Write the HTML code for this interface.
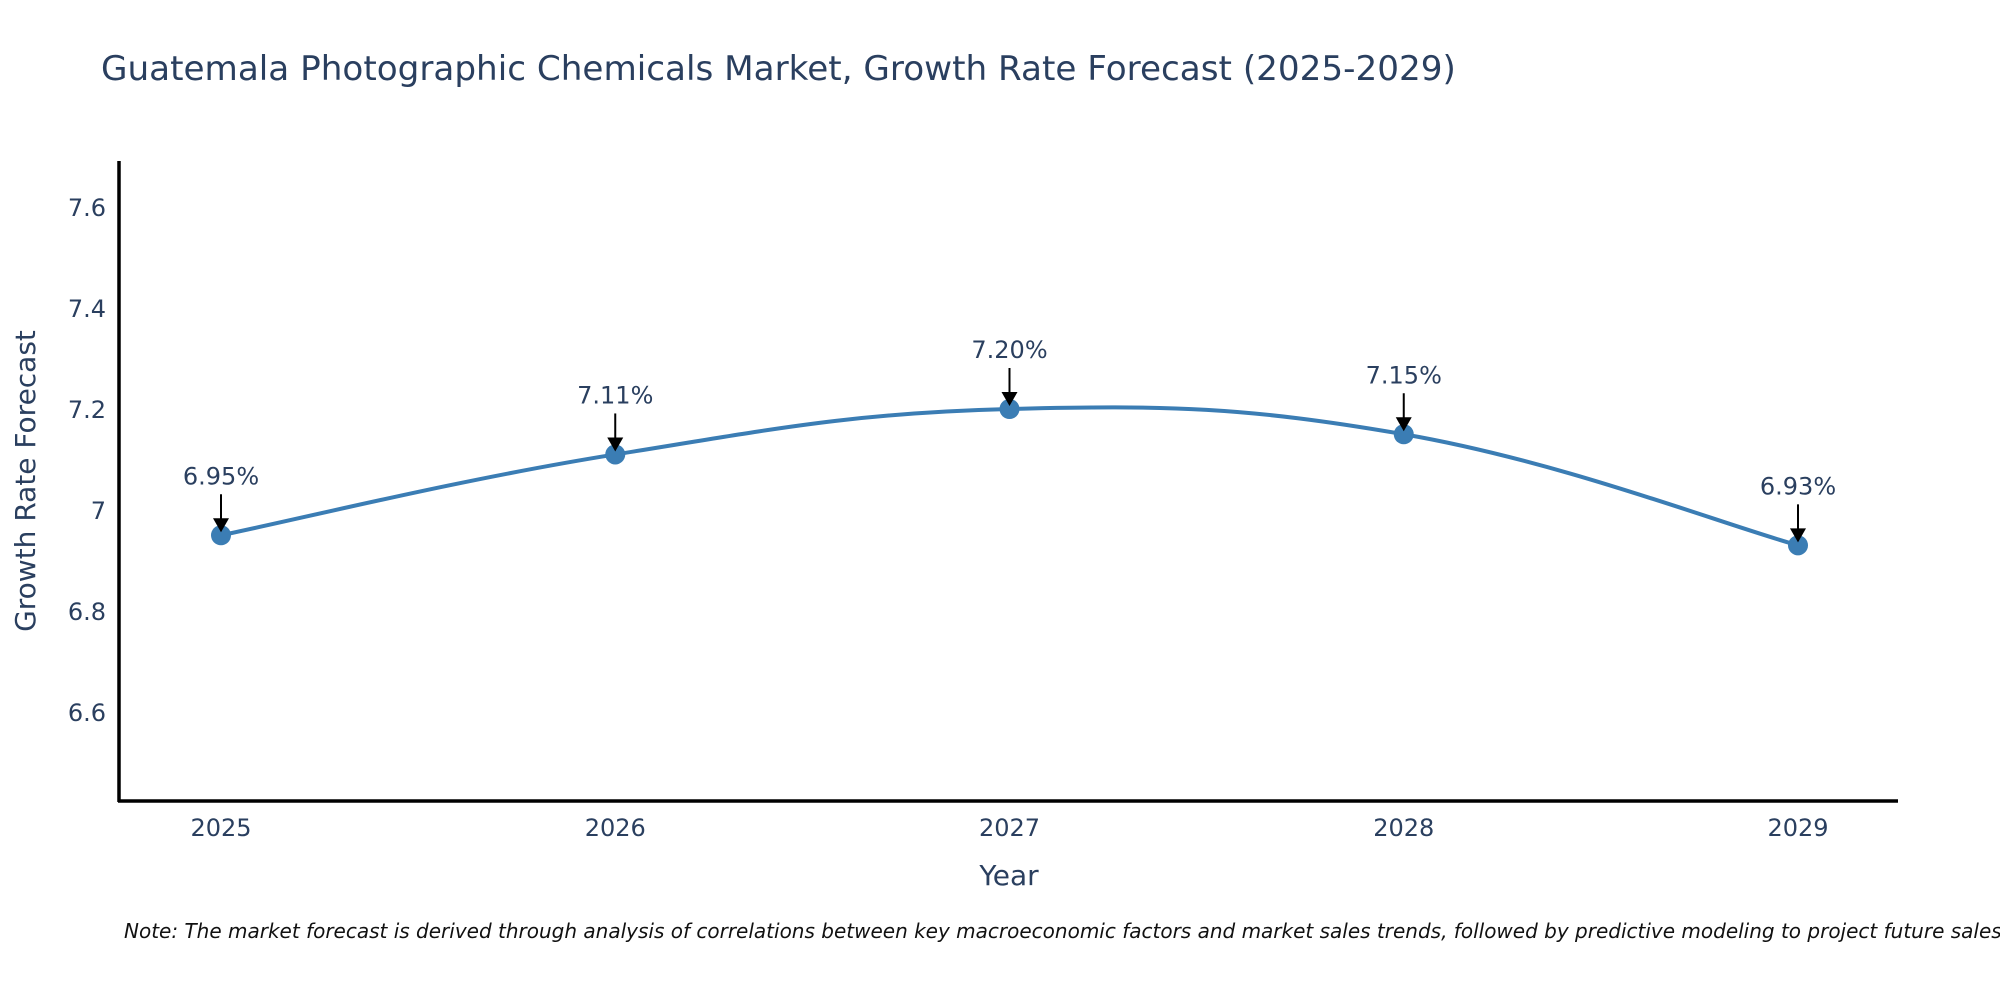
<!DOCTYPE html>
<html><head><meta charset="utf-8"><style>
body{margin:0;background:#fff}
svg{display:block;font-family:"DejaVu Sans","Liberation Sans",sans-serif}
</style></head><body>
<svg id="chart" width="2000" height="1000" viewBox="0 0 2000 1000">
<text x="101" y="80" font-size="34.2" fill="#2a3f5f">Guatemala Photographic Chemicals Market, Growth Rate Forecast (2025-2029)</text>
<g id="yticks"></g><g id="xticks"></g>
<path id="line" fill="none" stroke="#3b7db4" stroke-width="4"/>
<g id="marks"></g>
<line x1="119" y1="161" x2="119" y2="802" stroke="#000" stroke-width="3.5"/>
<line x1="118" y1="801" x2="1898" y2="801" stroke="#000" stroke-width="3.5"/>
<text x="1009" y="885" font-size="28" fill="#2a3f5f" text-anchor="middle">Year</text>
<text transform="translate(35,481) rotate(-90)" font-size="28" fill="#2a3f5f" text-anchor="middle">Growth Rate Forecast</text>
<text x="124" y="938" font-size="20" font-style="italic" fill="#111">Note: The market forecast is derived through analysis of correlations between key macroeconomic factors and market sales trends, followed by predictive modeling to project future sales.</text>
</svg>
<script>
const years=[2025,2026,2027,2028,2029];
const values=[6.95,7.11,7.20,7.15,6.93];
const labels=["6.95%","7.11%","7.20%","7.15%","6.93%"];
const yTicks=[6.6,6.8,7,7.2,7.4,7.6];
const NS="http://www.w3.org/2000/svg";
const X=v=>221+(v-2025)*(1798-221)/4;
const Y=v=>510-(v-7.0)*505;
function mk(t,a,p){const e=document.createElementNS(NS,t);for(const k in a)e.setAttribute(k,a[k]);p.appendChild(e);return e;}
const yg=document.getElementById('yticks'),xg=document.getElementById('xticks'),mg=document.getElementById('marks');
yTicks.forEach(t=>{const e=mk('text',{x:106,y:Y(t)+9,'font-size':24,fill:'#2a3f5f','text-anchor':'end'},yg);e.textContent=String(t);

});
years.forEach(t=>{const e=mk('text',{x:X(t),y:836,'font-size':24,fill:'#2a3f5f','text-anchor':'middle'},xg);e.textContent=String(t);

});
const P=years.map((y,i)=>[X(y),Y(values[i])]);
let d=`M${P[0][0]},${P[0][1]}`;
for(let i=0;i<P.length-1;i++){const p0=P[Math.max(0,i-1)],p1=P[i],p2=P[i+1],p3=P[Math.min(P.length-1,i+2)];const s=5;
d+=` C${p1[0]+(p2[0]-p0[0])/s},${p1[1]+(p2[1]-p0[1])/s} ${p2[0]-(p3[0]-p1[0])/s},${p2[1]-(p3[1]-p1[1])/s} ${p2[0]},${p2[1]}`;}
document.getElementById('line').setAttribute('d',d);
P.forEach((p,i)=>{
const c=mk('circle',{cx:p[0],cy:p[1],r:10,fill:'#3b7db4'},mg);


const l=mk('line',{x1:p[0],y1:p[1]-41,x2:p[0],y2:p[1]-14,stroke:'#000','stroke-width':2},mg);


const h=mk('polygon',{points:`${p[0]-8},${p[1]-17} ${p[0]+8},${p[1]-17} ${p[0]},${p[1]-3}`,fill:'#000'},mg);


const t=mk('text',{x:p[0],y:p[1]-51,'font-size':24,fill:'#2a3f5f','text-anchor':'middle'},mg);t.textContent=labels[i];


});
</script>
</body></html>
